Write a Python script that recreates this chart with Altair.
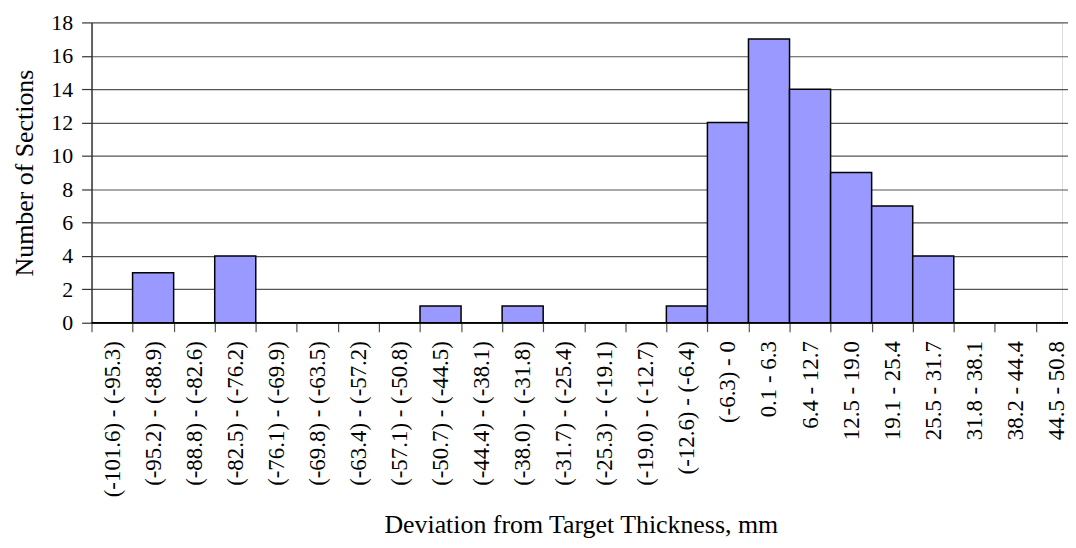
import altair as alt
import pandas as pd

categories = [
    "(-101.6) - (-95.3)", "(-95.2) - (-88.9)", "(-88.8) - (-82.6)", "(-82.5) - (-76.2)",
    "(-76.1) - (-69.9)", "(-69.8) - (-63.5)", "(-63.4) - (-57.2)", "(-57.1) - (-50.8)",
    "(-50.7) - (-44.5)", "(-44.4) - (-38.1)", "(-38.0) - (-31.8)", "(-31.7) - (-25.4)",
    "(-25.3) - (-19.1)", "(-19.0) - (-12.7)", "(-12.6) - (-6.4)", "(-6.3) - 0",
    "0.1 - 6.3", "6.4 - 12.7", "12.5 - 19.0", "19.1 - 25.4", "25.5 - 31.7",
    "31.8 - 38.1", "38.2 - 44.4", "44.5 - 50.8",
]
counts = [0, 3, 0, 4, 0, 0, 0, 0, 1, 0, 1, 0, 0, 0, 1, 12, 17, 14, 9, 7, 4, 0, 0, 0]
y_ticks = [0, 2, 4, 6, 8, 10, 12, 14, 16, 18]

df = pd.DataFrame({"bin": categories, "n": counts})

FONT = "Liberation Serif"

chart = alt.Chart(df).mark_bar(
    color="#9999FF", stroke="#000000", strokeWidth=1.5
).encode(
    x=alt.X(
        "bin:N",
        sort=categories,
        scale=alt.Scale(paddingInner=0, paddingOuter=0, range=[0, 991]),
        axis=alt.Axis(
            title="Deviation from Target Thickness, mm",
            labelAngle=270,
            labelAlign="right",
            labelBaseline="middle",
            labelFont=FONT,
            labelFontSize=23,
            labelColor="#000000",
            labelPadding=9,
            tickBand="extent",
            tickSize=9,
            tickColor="#555555",
            tickWidth=1.2,
            domainColor="#333333",
            domainWidth=1.5,
            titleFont=FONT,
            titleFontSize=26,
            titleFontWeight="normal",
            titleColor="#000000",
            titleBaseline="alphabetic",
            titleAlign="center",
            titleX=492,
            titleY=211,
            grid=False,
        ),
    ),
    y=alt.Y(
        "n:Q",
        scale=alt.Scale(domain=[0, 18], nice=False),
        axis=alt.Axis(
            title="Number of Sections",
            values=y_ticks,
            labelFont=FONT,
            labelFontSize=22,
            labelColor="#000000",
            labelPadding=9,
            tickSize=10,
            tickColor="#333333",
            tickWidth=1.2,
            domainColor="#333333",
            domainWidth=1.5,
            gridColor="#555555",
            gridWidth=1.2,
            titleFont=FONT,
            titleFontSize=26,
            titleFontWeight="normal",
            titleColor="#000000",
            titlePadding=13,
        ),
    ),
).properties(
    width=976,
    height=302,
    padding={"left": 84, "top": 13, "right": 6, "bottom": 216},
    autosize=alt.AutoSizeParams(type="none"),
).configure_view(
    stroke=None
).configure(
    background="white"
)

chart.save("out.html", embed_options={"renderer": "svg", "actions": False})
